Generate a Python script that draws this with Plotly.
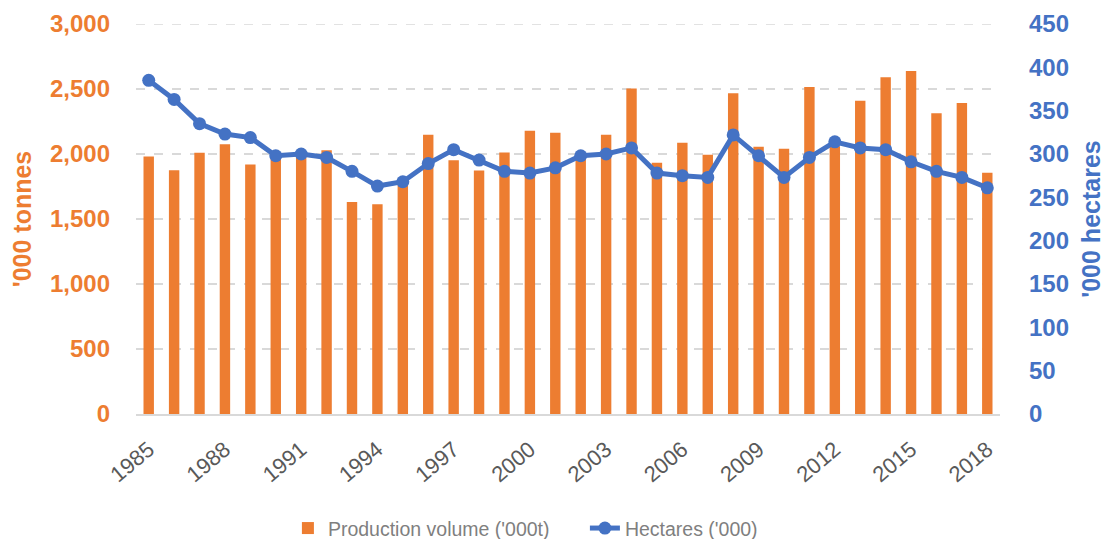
import plotly.graph_objects as go

years = list(range(1985, 2019))
production = [1980, 1875, 2010, 2075, 1920, 1995, 2000, 2028, 1630, 1613, 1780, 2148,
              1951, 1874, 2012, 2178, 2163, 1990, 2148, 2504, 1933, 2086, 1994, 2468,
              2055, 2040, 2516, 2060, 2409, 2591, 2639, 2314, 2393, 1856]
hectares = [385, 363, 335, 323, 319, 298, 300, 296, 280, 263, 268, 289,
            305, 293, 280, 278, 284, 298, 300, 307, 278, 275, 273, 322,
            298, 273, 296, 314, 307, 305, 291, 280, 273, 261]
left_ticks = [0, 500, 1000, 1500, 2000, 2500, 3000]
right_ticks = [0, 50, 100, 150, 200, 250, 300, 350, 400, 450]

ORANGE = "#ED7D31"
BLUE = "#4472C4"
GREY = "#595959"
LEGEND_GREY = "#7F7F7F"
GRID = "#D9D9D9"
FONT = "Liberation Sans"

fig = go.Figure()
fig.add_trace(go.Bar(
    x=years, y=production, name="Production volume ('000t)",
    marker=dict(color=ORANGE, line=dict(width=0)), width=0.41, yaxis="y",
))
fig.add_trace(go.Scatter(
    x=years, y=hectares, name="Hectares ('000)", mode="lines+markers",
    line=dict(color=BLUE, width=5), marker=dict(color=BLUE, size=13), yaxis="y2",
))

# top gridline (plotly drops the gridline sitting on the plot edge)
fig.add_shape(type="line", xref="paper", yref="y", x0=0, x1=1,
              y0=left_ticks[-1], y1=left_ticks[-1],
              line=dict(color=GRID, width=1.5, dash="dash"), layer="below")

fig.update_layout(
    width=1102, height=531,
    margin=dict(l=128, r=110, t=16, b=125),
    plot_bgcolor="white", paper_bgcolor="white",
    font=dict(family=FONT, color=GREY),
    showlegend=True,
    legend=dict(orientation="h", xref="container", yref="container",
                x=0.254, xanchor="left", y=0.02, yanchor="middle",
                entrywidth=252, entrywidthmode="pixels",
                font=dict(size=19.5, color=LEGEND_GREY), traceorder="normal"),
    xaxis=dict(
        range=[1984.5, 2018.5], tickmode="array", tickvals=years[::3],
        ticktext=[str(y) for y in years[::3]], tickangle=-40,
        tickfont=dict(size=22, color=GREY), showgrid=False, automargin=False,
        showline=True, linecolor=GRID, linewidth=2, ticks="", zeroline=False,
        ticklabelstandoff=12,
    ),
    yaxis=dict(
        range=[0, 3000], tickvals=left_ticks, ticktext=[f"{v:,}" for v in left_ticks],
        tickfont=dict(size=24, color=ORANGE, weight="bold"), automargin=False,
        title=dict(text="'000 tonnes", font=dict(size=25, color=ORANGE, weight="bold"), standoff=15),
        showgrid=True, gridcolor=GRID, griddash="dash", gridwidth=1.5,
        zeroline=False, ticklabelstandoff=25,
    ),
    yaxis2=dict(
        range=[0, 450], tickvals=right_ticks, overlaying="y", side="right",
        tickfont=dict(size=24, color=BLUE, weight="bold"), automargin=False,
        title=dict(text="'000 hectares", font=dict(size=25, color=BLUE, weight="bold"), standoff=14),
        showgrid=False, zeroline=False, ticklabelstandoff=28,
    ),
    bargap=0.58,
)

fig.write_html("out.html")
